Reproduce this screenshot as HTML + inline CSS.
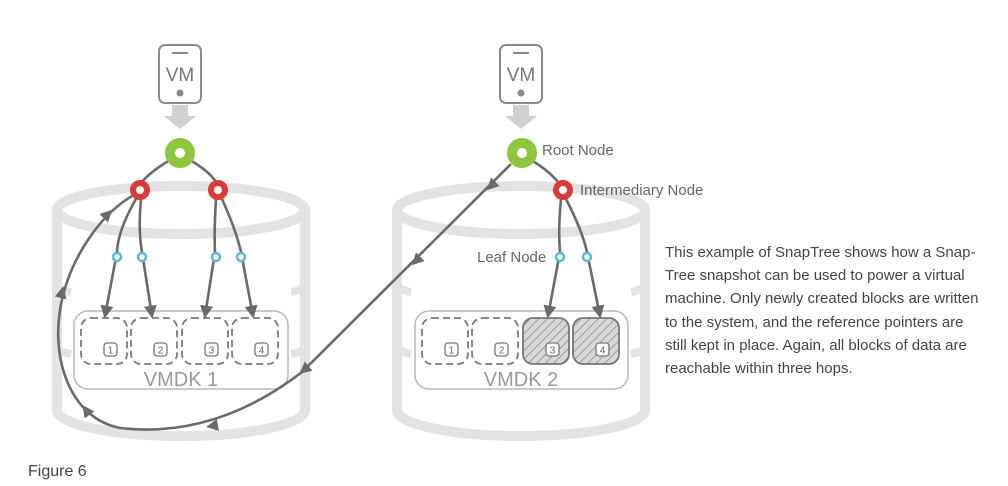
<!DOCTYPE html>
<html><head><meta charset="utf-8"><style>
html,body{margin:0;padding:0;background:#fff;width:1008px;height:486px;overflow:hidden}
svg{display:block}
text{font-family:"Liberation Sans",sans-serif}
</style></head><body>
<svg width="1008" height="486" viewBox="0 0 1008 486" xmlns="http://www.w3.org/2000/svg">
<defs>
<pattern id="hatch" width="6" height="6" patternUnits="userSpaceOnUse" patternTransform="rotate(45)">
<rect width="6" height="6" fill="#d8d8d8"/><line x1="0" y1="0" x2="0" y2="6" stroke="#888" stroke-width="1.5"/></pattern>
<marker id="ah" viewBox="0 0 10 10" refX="8" refY="5" markerWidth="5" markerHeight="5" orient="auto"><path d="M0,0 L10,5 L0,10 z" fill="#6a6a6a"/></marker>
<g id="cyl">
<path d="M-124,0 L-124,200 A124,26 0 0 0 124,200 L124,0" fill="none" stroke="#e3e3e3" stroke-width="10"/>
<ellipse cx="0" cy="0" rx="124" ry="24" fill="#fff" stroke="#e3e3e3" stroke-width="10"/>
<path d="M-124,74 Q-122,80 -110,82 M124,74 Q122,80 110,82" fill="none" stroke="#e3e3e3" stroke-width="8"/>
<path d="M-124,136 Q-122,142 -110,144 M124,136 Q122,142 110,144" fill="none" stroke="#e3e3e3" stroke-width="8"/>
</g>
<g id="vm">
<rect x="-21" y="0" width="42" height="58" rx="6" fill="#fff" stroke="#8a8a8a" stroke-width="2"/>
<line x1="-8" y1="8" x2="8" y2="8" stroke="#8a8a8a" stroke-width="2"/>
<text x="0" y="36" text-anchor="middle" font-size="19" fill="#777">VM</text>
<circle cx="0" cy="48" r="3.5" fill="#888"/>
<path d="M-8,60 L8,60 L8,71 L16,71 L0,84 L-16,71 L-8,71 z" fill="#d0d0d0"/>
</g>
</defs>

<use href="#cyl" x="181" y="210"/>
<use href="#cyl" x="521" y="210"/>
<use href="#vm" x="180" y="45"/>
<use href="#vm" x="521" y="45"/>

<!-- VMDK 1 -->
<rect x="74" y="311" width="214" height="78" rx="14" fill="#fff" stroke="#b8b8b8" stroke-width="1.5"/>
<g fill="none" stroke="#7a7a7a" stroke-width="1.8" stroke-dasharray="7,4">
<rect x="81" y="318" width="46" height="46" rx="10"/>
<rect x="131" y="318" width="46" height="46" rx="10"/>
<rect x="182" y="318" width="46" height="46" rx="10"/>
<rect x="232" y="318" width="46" height="46" rx="10"/>
</g>
<g fill="#fff" stroke="#777" stroke-width="1.3">
<rect x="104" y="343" width="13" height="13" rx="3"/><rect x="154" y="343" width="13" height="13" rx="3"/>
<rect x="205" y="343" width="13" height="13" rx="3"/><rect x="255" y="343" width="13" height="13" rx="3"/>
</g>
<g font-size="10" fill="#666" text-anchor="middle">
<text x="110.5" y="353.5">1</text><text x="160.5" y="353.5">2</text><text x="211.5" y="353.5">3</text><text x="261.5" y="353.5">4</text>
</g>
<text x="181" y="386" text-anchor="middle" font-size="20" fill="#999">VMDK 1</text>

<!-- VMDK 2 -->
<rect x="415" y="311" width="213" height="78" rx="14" fill="#fff" stroke="#b8b8b8" stroke-width="1.5"/>
<g fill="none" stroke="#7a7a7a" stroke-width="1.8" stroke-dasharray="7,4">
<rect x="422" y="318" width="46" height="46" rx="10"/>
<rect x="472" y="318" width="46" height="46" rx="10"/>
</g>
<rect x="523" y="318" width="46" height="46" rx="10" fill="url(#hatch)" stroke="#777" stroke-width="1.8"/>
<rect x="573" y="318" width="46" height="46" rx="10" fill="url(#hatch)" stroke="#777" stroke-width="1.8"/>
<g fill="#fff" stroke="#777" stroke-width="1.3">
<rect x="445" y="343" width="13" height="13" rx="3"/><rect x="495" y="343" width="13" height="13" rx="3"/>
<rect x="546" y="343" width="13" height="13" rx="3"/><rect x="596" y="343" width="13" height="13" rx="3"/>
</g>
<g font-size="10" fill="#666" text-anchor="middle">
<text x="451.5" y="353.5">1</text><text x="501.5" y="353.5">2</text><text x="552.5" y="353.5">3</text><text x="602.5" y="353.5">4</text>
</g>
<text x="521" y="386" text-anchor="middle" font-size="20" fill="#999">VMDK 2</text>

<!-- edges -->
<g fill="none" stroke="#6a6a6a" stroke-width="2.6">
<path d="M170,160 Q150,172 142,182"/>
<path d="M190,160 Q210,172 216,182"/>
<path d="M136,199 Q118,230 117,252 L105,316" marker-end="url(#ah)"/>
<path d="M141,200 Q138,230 142,252 L152,316" marker-end="url(#ah)"/>
<path d="M216,199 Q214,230 215,252 L205,316" marker-end="url(#ah)"/>
<path d="M222,199 Q236,230 241,252 L253,316" marker-end="url(#ah)"/>
<path d="M531,160 Q548,170 558,182"/>
<path d="M561,199 Q558,230 560,252 L548,316" marker-end="url(#ah)"/>
<path d="M566,199 Q582,230 587,252 L600,316" marker-end="url(#ah)"/>
<path d="M511,164 L302,372 C250,412 190,436 120,428 C70,418 52,360 60,310 C68,260 100,215 132,196"/>
</g>
<g fill="#6a6a6a">
<path d="M-6,-6 L6,0 L-6,6 z" transform="translate(491,186) rotate(135)"/>
<path d="M-6,-6 L6,0 L-6,6 z" transform="translate(416,261) rotate(135)"/>
<path d="M-6,-6 L6,0 L-6,6 z" transform="translate(304,370) rotate(140)"/>
<path d="M-6,-6 L6,0 L-6,6 z" transform="translate(212,426) rotate(170)"/>
<path d="M-6,-6 L6,0 L-6,6 z" transform="translate(86,410) rotate(235)"/>
<path d="M-6,-6 L6,0 L-6,6 z" transform="translate(62,292) rotate(283)"/>
<path d="M-6,-6 L6,0 L-6,6 z" transform="translate(108,214) rotate(315)"/>
</g>

<!-- nodes -->
<g fill="#fff">
<circle cx="180" cy="153" r="10" stroke="#8dc63f" stroke-width="10"/>
<circle cx="522" cy="153" r="10" stroke="#8dc63f" stroke-width="10"/>
<circle cx="140" cy="190" r="7" stroke="#d93a3a" stroke-width="6"/>
<circle cx="218" cy="190" r="7" stroke="#d93a3a" stroke-width="6"/>
<circle cx="563" cy="190" r="7" stroke="#d93a3a" stroke-width="6"/>
<g stroke="#5cb8e0" stroke-width="2.5">
<circle cx="117" cy="257" r="4"/><circle cx="142" cy="257" r="4"/>
<circle cx="216" cy="257" r="4"/><circle cx="241" cy="257" r="4"/>
<circle cx="560" cy="257" r="4"/><circle cx="587" cy="257" r="4"/>
</g>
</g>

<g font-size="15" fill="#666">
<text x="542" y="155">Root Node</text>
<text x="580" y="195">Intermediary Node</text>
<text x="477" y="262">Leaf Node</text>
</g>
<g font-size="15" fill="#444">
<text x="665" y="257">This example of SnapTree shows how a Snap-</text>
<text x="665" y="280">Tree snapshot can be used to power a virtual</text>
<text x="665" y="303">machine. Only newly created blocks are written</text>
<text x="665" y="327">to the system, and the reference pointers are</text>
<text x="665" y="350">still kept in place. Again, all blocks of data are</text>
<text x="665" y="373">reachable within three hops.</text>
</g>
<text x="28" y="476" font-size="16" fill="#444">Figure 6</text>
</svg>
</body></html>
